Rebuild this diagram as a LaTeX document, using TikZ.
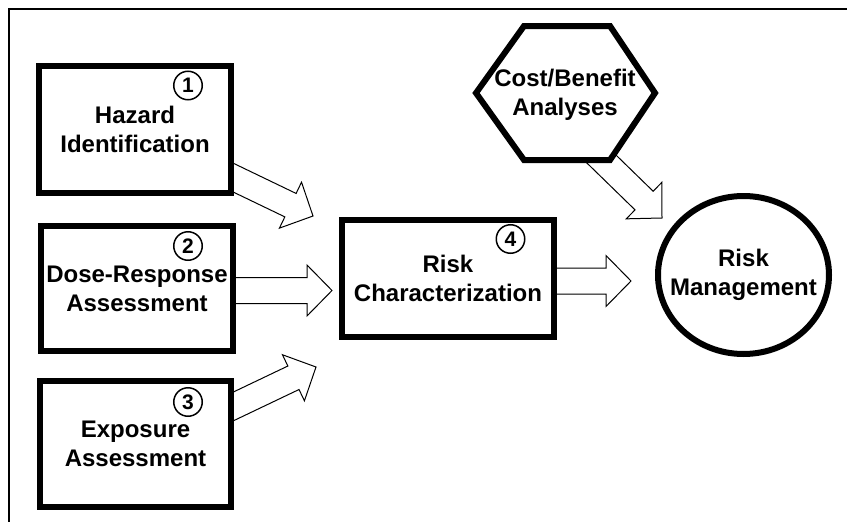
\documentclass[tikz,border=0pt]{standalone}
\usepackage{fontspec}
\setmainfont{Liberation Sans}
\usetikzlibrary{calc,backgrounds,shapes.geometric}
\newcommand{\blockarr}[2]{%
  \coordinate (ba-base) at ($(#2)!25pt!(#1)$);
  \draw[blockarrow] ($(#1)!13pt!90:(#2)$) -- ($(ba-base)!13pt!90:(#2)$) -- ($(ba-base)!25.5pt!90:(#2)$) -- (#2) -- ($(ba-base)!25.5pt!-90:(#2)$) -- ($(ba-base)!13pt!-90:(#2)$) -- ($(#1)!13pt!-90:(#2)$) -- cycle;}
\begin{document}
\begin{tikzpicture}[x=1pt,y=-1pt,
  txt/.style={align=center,inner sep=0pt,font=\fontsize{24}{29}\selectfont\bfseries},
  box/.style={txt,draw,line width=6pt,fill=white},
  num/.style={draw,circle,line width=1.5pt,minimum size=28.5pt,inner sep=0pt,fill=white,font=\fontsize{21}{21}\selectfont\bfseries},
  blockarrow/.style={draw,line width=1pt,fill=white,line join=miter}]
\useasboundingbox (0,0) rectangle (847,522);
% boxes
\node[box,minimum width=192pt,minimum height=127pt] (haz) at (135,129.5) {Hazard\\Identification};
\node[box,minimum width=192pt,minimum height=125pt] (dose) at (137,288.5) {Dose-Response\\Assessment};
\node[box,minimum width=191pt,minimum height=126pt] (expo) at (135.5,444) {Exposure\\Assessment};
\node[box,minimum width=212pt,minimum height=117pt] (risk) at (448,278.5) {Risk\\Characterization};
% hexagon
\draw[line width=6pt,fill=white,line join=miter] (476,93) -- (524,26) -- (610,26) -- (655,93) -- (610,160) -- (524,160) -- cycle;
\node[txt] (cba) at (565,95) {Cost/Benefit\\Analyses};
% risk management
\node[draw,ellipse,line width=6pt,fill=white,minimum width=171pt,minimum height=158pt,inner sep=0pt] (rm) at (743.5,275) {};
\node[txt] (rmtext) at (rm.center) {Risk\\Management};
% numbers
\node[num] (n1) at (188,85.5) {1};
\node[num] (n2) at (188,246) {2};
\node[num] (n3) at (188,402) {3};
\node[num] (n4) at (510.5,239) {4};
% arrows
\coordinate (a1s) at (207,165); \coordinate (a1t) at (313,216);
\coordinate (a2s) at (200,290.5); \coordinate (a2t) at (332,290.5);
\coordinate (a3s) at (207,419); \coordinate (a3t) at (316,367);
\coordinate (a4s) at (530,281); \coordinate (a4t) at (631,281);
\coordinate (a5s) at (585,143); \coordinate (a5t) at (662,218);
\begin{scope}[on background layer]
\draw[line width=2pt] (8.5,522) -- (8.5,8.5) -- (847,8.5);
\blockarr{a1s}{a1t}
\blockarr{a2s}{a2t}
\blockarr{a3s}{a3t}
\blockarr{a4s}{a4t}
\blockarr{a5s}{a5t}
\end{scope}
\end{tikzpicture}
\end{document}
